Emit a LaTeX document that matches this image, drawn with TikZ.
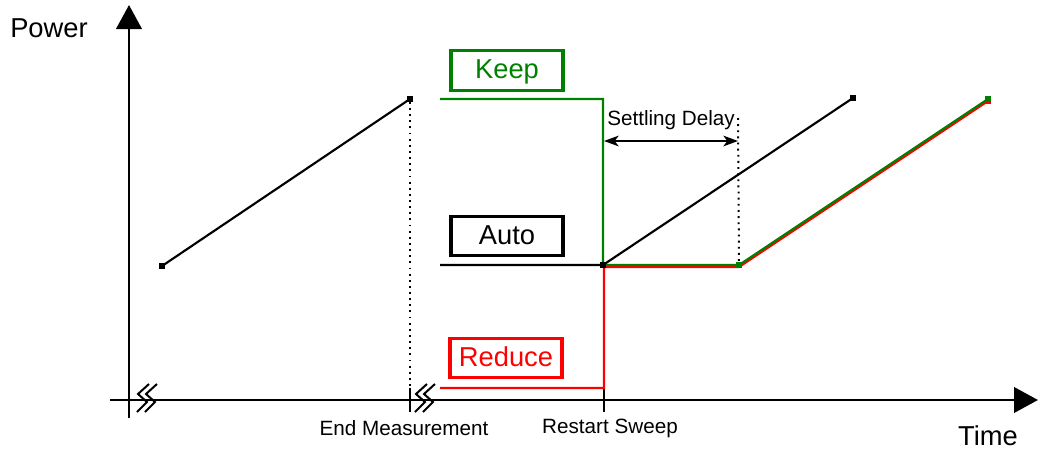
\documentclass[tikz,border=0pt]{standalone}
\usepackage{fontspec}
\setmainfont{Liberation Sans}
\usetikzlibrary{arrows.meta}
\definecolor{keepgreen}{RGB}{0,128,0}
\definecolor{reducered}{RGB}{255,0,0}
\begin{document}
\begin{tikzpicture}[x=0.75pt,y=-0.75pt,
  axis/.style={line width=2.2pt,-{Triangle[length=18pt,width=19pt]}},
  curve/.style={line width=1.6pt},
  dotline/.style={line width=1.5pt,dash pattern=on 1.4pt off 3.2pt},
  brk/.style={line width=1.5pt},
  modebox/.style={draw,line width=2.3pt,minimum width=84pt,minimum height=29.5pt,inner sep=0pt,text height=14.7pt,text depth=2pt,font=\fontsize{20.5pt}{24pt}\selectfont},
  lbl/.style={font=\fontsize{15.5pt}{18pt}\selectfont,inner sep=0pt},
  biglbl/.style={font=\fontsize{20.5pt}{24pt}\selectfont,inner sep=0pt},
  endpt/.style={fill,minimum size=4pt,inner sep=0pt}]
\useasboundingbox (0,0) rectangle (1039,450);

% axes
\coordinate (ybot) at (129,418);
\coordinate (ytop) at (129,5);
\coordinate (xleft) at (110,400);
\coordinate (xright) at (1038,400);
\draw[axis] (ybot) -- (ytop);
\draw[axis] (xleft) -- (xright);

% break marks
\foreach \dx in {0,8} {
  \draw[brk] (149+\dx,384) -- (138+\dx,394) -- (147+\dx,402) -- (137+\dx,412);
  \draw[brk] (427+\dx,384) -- (416+\dx,394) -- (425+\dx,402) -- (415+\dx,412);
}

% ticks
\coordinate (endt) at (410,388);
\coordinate (endb) at (410,412);
\coordinate (rst) at (604,388);
\coordinate (rsb) at (604,412);
\draw[line width=1.5pt] (endt) -- (endb);
\draw[line width=1.5pt] (rst) -- (rsb);

% first measurement
\node[endpt] (p1) at (162,266) {};
\node[endpt] (p2) at (410,99) {};
\draw[curve] (p1.center) -- (p2.center);
\draw[dotline] (p2.south) -- (endt);

% Reduce (red)
\coordinate (r0) at (440,388);
\coordinate (r1) at (604,388);
\coordinate (r2) at (604,267);
\coordinate (r3) at (739,267);
\coordinate (r4) at (988,101);
\draw[curve,reducered] (r0) -- (r1) -- (r2) -- (r3) -- (r4);
\node[endpt,reducered] at (r4) {};

% Keep (green)
\coordinate (g0) at (440,99);
\coordinate (g1) at (603,99);
\coordinate (g2) at (603,265);
\coordinate (g3) at (739,265);
\coordinate (g4) at (988,99);
\draw[curve,keepgreen] (g0) -- (g1) -- (g2) -- (g3) -- (g4);
\node[endpt,keepgreen] at (g3) {};
\node[endpt,keepgreen] at (g4) {};

% Auto (black)
\coordinate (a0) at (440,265);
\node[endpt] (a1) at (603,265) {};
\node[endpt] (a2) at (853,98) {};
\draw[curve] (a0) -- (a1.center) -- (a2.center);

% settling delay
\coordinate (sd1) at (604,141);
\coordinate (sd2) at (738,141);
\coordinate (sdtop) at (738,118);
\draw[dotline] (sdtop) -- (g3);
\draw[line width=1.5pt,{Stealth[length=11pt,width=8pt,inset=3pt]}-{Stealth[length=11pt,width=8pt,inset=3pt]}] (sd1) -- (sd2);
\node[lbl] (sdl) at (671,120) {Settling Delay};

% mode boxes
\node[modebox,keepgreen] (keep) at (507,70.5) {Keep};
\node[modebox] (auto) at (507,236) {Auto};
\node[modebox,reducered] (reduce) at (506,358) {Reduce};

% labels
\node[biglbl] (power) at (49,28) {Power};
\node[biglbl] (time) at (988,436) {Time};
\node[lbl] (endm) at (404,428) {End Measurement};
\node[lbl] (restart) at (610,428) {Restart Sweep};
\end{tikzpicture}
\end{document}
